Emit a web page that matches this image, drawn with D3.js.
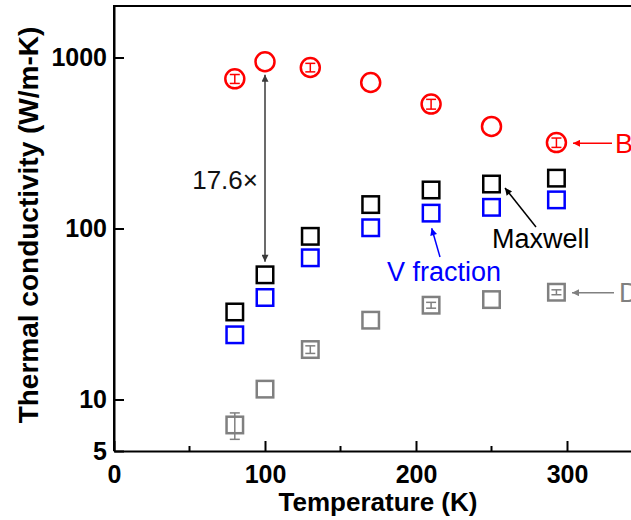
<!DOCTYPE html>
<html>
<head>
<meta charset="utf-8">
<script src="https://cdn.jsdelivr.net/npm/d3@7"></script>
<style>
  body { margin: 0; background: #fff; }
  svg { display: block; font-family: "Liberation Sans", Arial, sans-serif; }
</style>
</head>
<body>
<svg id="chart" width="631" height="520"></svg>
<script>
// temperatures (K)
var temps = [80, 100, 130, 170, 210, 250, 293];
// measured bulk ("B") values and their error half-widths
var bulk = [750, 944, 874, 714, 534, 395, 318];
var bulkErr = [45, 0, 50, 0, 35, 0, 20];
// Maxwell model
var maxwell = [32.5, 53.6, 90, 138, 168, 182, 197];
// V fraction model
var vFraction = [23.9, 39.5, 67.4, 101, 123, 133, 147];
// measured "D" values and errors
var dense = [7.1, 11.5, 19.6, 29.1, 35.6, 38.4, 42.4];
var denseErr = [1.25, 0, 1.0, 0, 1.4, 0, 1.4];

var xTicks = [0, 100, 200, 300];
var xMinor = [50, 150, 250, 350];
var yTicks = [5, 10, 100, 1000];

(function () {
var svg = d3.select("#chart");
var mLeft = 114, mTop = 6, mBottom = 451;

var x = d3.scaleLinear().domain([0, 350]).range([mLeft, mLeft + 350 * 1.51]);
var y = d3.scaleLog().domain([5, 2000]).range([mBottom, mTop]);

var red = "#ff0000", blue = "#0000ff", gray = "#808080";

// arrow markers
var defs = svg.append("defs");
function marker(id, color) {
  defs.append("marker")
    .attr("id", id)
    .attr("viewBox", "0 0 10 10")
    .attr("refX", 10).attr("refY", 5)
    .attr("markerWidth", 11).attr("markerHeight", 7)
    .attr("markerUnits", "userSpaceOnUse")
    .attr("orient", "auto-start-reverse")
    .append("path")
    .attr("d", "M0,0L10,5L0,10z")
    .attr("fill", color);
}
marker("a-dark", "#3a3a3a");
marker("a-red", red);
marker("a-gray", gray);
marker("a-black", "#000");
marker("a-blue", blue);

// frame
svg.append("path")
  .attr("d", "M" + x(0) + "," + y(5) + "V" + y(2000) + "H" + x(350) + "V" + y(5))
  .attr("fill", "none").attr("stroke", "#000").attr("stroke-width", 2);

// axes
var xAxis = svg.append("g")
  .attr("transform", "translate(0," + mBottom + ")")
  .call(d3.axisBottom(x).tickValues(xTicks).tickFormat(d3.format("d"))
    .tickSizeInner(-10).tickSizeOuter(0).tickPadding(14));
xAxis.append("g").selectAll("line").data(xMinor).join("line")
  .attr("x1", x).attr("x2", x).attr("y1", 0).attr("y2", -5)
  .attr("stroke", "#000").attr("stroke-width", 2);

var yAxis = svg.append("g")
  .attr("transform", "translate(" + mLeft + ",0)")
  .call(d3.axisLeft(y).tickValues(yTicks).tickFormat(d3.format("d"))
    .tickSizeInner(-10).tickSizeOuter(0).tickPadding(7));

svg.selectAll(".domain").attr("stroke-width", 2);
svg.selectAll(".tick line").attr("stroke-width", 2);
svg.selectAll(".tick text")
  .attr("font-size", 25).attr("font-weight", "bold")
  .attr("font-family", "Liberation Sans, Arial, sans-serif").attr("fill", "#000");

// axis titles
svg.append("text")
  .attr("x", 378).attr("y", 511)
  .attr("text-anchor", "middle")
  .attr("font-size", 26).attr("font-weight", "bold")
  .text("Temperature (K)");
svg.append("text")
  .attr("transform", "translate(38,225) rotate(-90)")
  .attr("text-anchor", "middle")
  .attr("font-size", 28).attr("font-weight", "bold")
  .text("Thermal conductivity (W/m-K)");

var plot = svg.append("g");

// error bars
function errBars(vals, errs, color, cap) {
  var rows = temps.map(function (t, i) { return { t: t, v: vals[i], e: errs[i] }; })
    .filter(function (d) { return d.e > 0; });
  var g = plot.append("g").attr("stroke", color).attr("stroke-width", 1.5);
  rows.forEach(function (d) {
    var cx = x(d.t), y1 = y(d.v + d.e), y2 = y(d.v - d.e);
    g.append("line").attr("x1", cx).attr("x2", cx).attr("y1", y1).attr("y2", y2);
    g.append("line").attr("x1", cx - cap).attr("x2", cx + cap).attr("y1", y1).attr("y2", y1);
    g.append("line").attr("x1", cx - cap).attr("x2", cx + cap).attr("y1", y2).attr("y2", y2);
  });
}

// squares
function squares(vals, color) {
  var s = 16.5;
  plot.append("g").selectAll("rect").data(vals).join("rect")
    .attr("x", function (d, i) { return x(temps[i]) - s / 2; })
    .attr("y", function (d) { return y(d) - s / 2; })
    .attr("width", s).attr("height", s)
    .attr("fill", "none").attr("stroke", color).attr("stroke-width", 2.5);
}

squares(dense, gray);
errBars(dense, denseErr, gray, 5);
squares(vFraction, blue);
squares(maxwell, "#000");

plot.append("g").selectAll("circle").data(bulk).join("circle")
  .attr("cx", function (d, i) { return x(temps[i]); })
  .attr("cy", y)
  .attr("r", 9.5)
  .attr("fill", "none").attr("stroke", red).attr("stroke-width", 2.5);
errBars(bulk, bulkErr, red, 5);

// annotations
function arrow(x1, y1, x2, y2, color, id, both) {
  var l = svg.append("line")
    .attr("x1", x1).attr("y1", y1).attr("x2", x2).attr("y2", y2)
    .attr("stroke", color).attr("stroke-width", 1.5)
    .attr("marker-end", "url(#" + id + ")");
  if (both) l.attr("marker-start", "url(#" + id + ")");
}
var ax = x(temps[1]);
arrow(ax, y(bulk[1]) + 13, ax, y(maxwell[1]) - 13, "#3a3a3a", "a-dark", true);
svg.append("text").attr("x", 258).attr("y", 189).attr("text-anchor", "end")
  .attr("font-size", 26).attr("fill", "#111").text("17.6\u00d7");

arrow(612, 143.3, 573, 143.3, red, "a-red");
svg.append("text").attr("x", 615).attr("y", 153).attr("font-size", 27)
  .attr("fill", red).text("B");

arrow(614, 292.7, 572, 292.7, gray, "a-gray");
svg.append("text").attr("x", 619).attr("y", 302).attr("font-size", 27)
  .attr("fill", gray).text("D");

arrow(536, 227, 505, 188, "#000", "a-black");
svg.append("text").attr("x", 492).attr("y", 248).attr("font-size", 27)
  .attr("fill", "#000").text("Maxwell");

arrow(440, 257, 431.7, 228.3, blue, "a-blue");
svg.append("text").attr("x", 387).attr("y", 281).attr("font-size", 27)
  .attr("fill", blue).text("V fraction");
})();
</script>
</body>
</html>
